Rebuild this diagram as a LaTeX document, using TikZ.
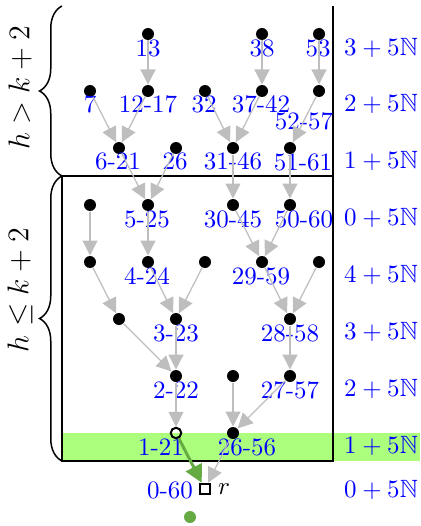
\documentclass[tikz,border=0pt]{standalone}
\usepackage{amssymb}
\usetikzlibrary{arrows.meta,decorations.pathreplacing}
\definecolor{bandgreen}{RGB}{172,255,125}
\definecolor{darkgreen}{RGB}{102,170,68}
\definecolor{edgegray}{RGB}{190,190,190}
\tikzset{
  dot/.style={circle,fill=black,inner sep=0pt,minimum size=4.8pt},
  odot/.style={circle,draw=black,line width=0.8pt,inner sep=0pt,minimum size=4.2pt},
  sq/.style={rectangle,draw=black,line width=0.8pt,inner sep=0pt,minimum size=4.2pt},
  lbl/.style={text=blue,inner sep=0pt,anchor=center},
  edge/.style={draw=edgegray,line width=0.5pt,-{Triangle[length=6pt,width=6pt]}},
  gedge/.style={draw=darkgreen,line width=1.2pt,-{Triangle[length=7pt,width=7pt]}},
  boxline/.style={draw=black,line width=0.6pt},
  bracestyle/.style={draw=black,line width=0.6pt,decorate,decoration={brace,amplitude=9pt}}
}
\begin{document}
\begin{tikzpicture}[x=0.4pt,y=-0.4pt]
\useasboundingbox (0,0) rectangle (420,526);
% green band
\fill[bandgreen] (62,433) rectangle (420,461);
% box
\draw[boxline] (333,6) -- (333,461) -- (62,461) -- (62,176) -- (333,176);
% braces
\draw[bracestyle] (62,176) -- (62,6);
\draw[bracestyle] (62,461) -- (62,176);
\node[rotate=90,font=\large] (hgt) at (20,88) {$h > k+2$};
\node[rotate=90,font=\large] (hle) at (20,290) {$h \leq k+2$};
% nodes
\node[dot] (n13) at (148,34) {};
\node[dot] (n38) at (262,34) {};
\node[dot] (n53) at (319,34) {};
\node[dot] (n7) at (90,91) {};
\node[dot] (n1217) at (148,91) {};
\node[dot] (n32) at (205,91) {};
\node[dot] (n3742) at (262,91) {};
\node[dot] (n5257) at (319,91) {};
\node[dot] (n621) at (119,148) {};
\node[dot] (n26) at (176,148) {};
\node[dot] (n3146) at (233,148) {};
\node[dot] (n5161) at (290,148) {};
\node[dot] (a0) at (90,205) {};
\node[dot] (n525) at (148,205) {};
\node[dot] (n3045) at (233,205) {};
\node[dot] (n5060) at (290,205) {};
\node[dot] (a1) at (90,262) {};
\node[dot] (n424) at (148,262) {};
\node[dot] (a2) at (205,262) {};
\node[dot] (n2959) at (262,262) {};
\node[dot] (a3) at (319,262) {};
\node[dot] (a4) at (119,319) {};
\node[dot] (n323) at (176,319) {};
\node[dot] (n2858) at (290,319) {};
\node[dot] (n222) at (176,376) {};
\node[dot] (a5) at (233,376) {};
\node[dot] (n2757) at (290,376) {};
\node[odot] (n121) at (176,433) {};
\node[dot] (n2656) at (233,433) {};
\node[sq] (r) at (205,489) {};
\node[fill=darkgreen,circle,inner sep=0pt,minimum size=4.8pt] (gdot) at (190,517) {};
% labels
\node[lbl] (l13) at (148,48) {13};
\node[lbl] (l38) at (262,48) {38};
\node[lbl] (l53) at (318,48) {53};
\node[lbl] (l7) at (90,104) {7};
\node[lbl] (l1217) at (148,104) {12-17};
\node[lbl] (l32) at (204,104) {32};
\node[lbl] (l3742) at (261,104) {37-42};
\node[lbl] (l5257) at (304,121) {52-57};
\node[lbl] (l621) at (118,161) {6-21};
\node[lbl] (l26) at (175,161) {26};
\node[lbl] (l3146) at (233,161) {31-46};
\node[lbl] (l5161) at (303,162) {51-61};
\node[lbl] (l525) at (147,219) {5-25};
\node[lbl] (l3045) at (233,219) {30-45};
\node[lbl] (l5060) at (304,219) {50-60};
\node[lbl] (l424) at (147,276) {4-24};
\node[lbl] (l2959) at (261,276) {29-59};
\node[lbl] (l323) at (176,333) {3-23};
\node[lbl] (l2858) at (290,333) {28-58};
\node[lbl] (l222) at (176,390) {2-22};
\node[lbl] (l2757) at (290,390) {27-57};
\node[lbl] (l121) at (161,447) {1-21};
\node[lbl] (l2656) at (247,447) {26-56};
\node[lbl] (l060) at (170,490) {0-60};
\node[inner sep=0pt] (lr) at (224,489) {$r$};
% right column
\node[lbl] (c1) at (381,48) {$3+5\mathbb{N}$};
\node[lbl] (c2) at (381,104) {$2+5\mathbb{N}$};
\node[lbl] (c3) at (381,161) {$1+5\mathbb{N}$};
\node[lbl] (c4) at (381,218) {$0+5\mathbb{N}$};
\node[lbl] (c5) at (381,275) {$4+5\mathbb{N}$};
\node[lbl] (c6) at (381,332) {$3+5\mathbb{N}$};
\node[lbl] (c7) at (381,389) {$2+5\mathbb{N}$};
\node[lbl] (c8) at (381,446) {$1+5\mathbb{N}$};
\node[lbl] (c9) at (381,490) {$0+5\mathbb{N}$};
% edges
\draw[edge] (n13) -- (n1217);
\draw[edge] (n38) -- (n3742);
\draw[edge] (n53) -- (n5257);
\draw[edge] (n7) -- (n621);
\draw[edge] (n1217) -- (n621);
\draw[edge] (n32) -- (n3146);
\draw[edge] (n3742) -- (n3146);
\draw[edge] (n5257) -- (n5161);
\draw[edge] (n621) -- (n525);
\draw[edge] (n26) -- (n525);
\draw[edge] (n3146) -- (n3045);
\draw[edge] (n5161) -- (n5060);
\draw[edge] (a0) -- (a1);
\draw[edge] (n525) -- (n424);
\draw[edge] (n3045) -- (n2959);
\draw[edge] (n5060) -- (n2959);
\draw[edge] (a1) -- (a4);
\draw[edge] (n424) -- (n323);
\draw[edge] (a2) -- (n323);
\draw[edge] (n2959) -- (n2858);
\draw[edge] (a3) -- (n2858);
\draw[edge] (a4) -- (n222);
\draw[edge] (n323) -- (n222);
\draw[edge] (n2858) -- (n2757);
\draw[edge] (n222) -- (n121);
\draw[edge] (a5) -- (n2656);
\draw[edge] (n2757) -- (n2656);
\draw[edge] (n2656) -- (r);
\draw[gedge] (n121) -- (r);
\end{tikzpicture}
\end{document}
